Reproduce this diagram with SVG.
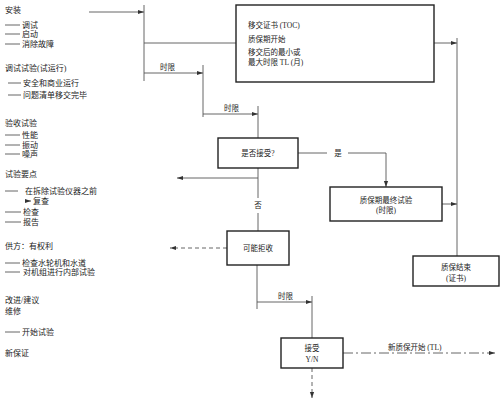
<svg xmlns="http://www.w3.org/2000/svg" width="500" height="401" viewBox="0 0 500 401">
<defs>
<style>
text{font-family:"Liberation Serif","Noto Sans CJK SC",serif;fill:#222;}
.l{font-size:8px;}
.b{font-size:7.5px;}
.m{text-anchor:middle;}
.box{fill:#fff;stroke:#222;stroke-width:1.4;}
.ln{fill:none;stroke:#555;stroke-width:0.9;}
.dash{fill:none;stroke:#555;stroke-width:0.9;stroke-dasharray:4 3;}
.dd{fill:none;stroke:#555;stroke-width:0.9;stroke-dasharray:10 3 2 3;}
.tick{stroke:#555;stroke-width:0.9;}
</style>
<marker id="ah" viewBox="0 0 10 10" refX="10" refY="5" markerWidth="6" markerHeight="6" markerUnits="userSpaceOnUse" orient="auto">
<path d="M0,1.5 L10,5 L0,8.5 z" fill="#333"/>
</marker>
</defs>
<rect width="500" height="401" fill="#fff"/>

<g id="legend">
<text class="l" x="5" y="13">安装</text>
<line class="tick" x1="5" y1="25" x2="20" y2="25"/><text class="l" x="22" y="28">调试</text>
<line class="tick" x1="5" y1="34" x2="20" y2="34"/><text class="l" x="22" y="37">启动</text>
<line class="tick" x1="5" y1="44" x2="20" y2="44"/><text class="l" x="22" y="47">消除故障</text>
<text class="l" x="5" y="71">调试试验(试运行)</text>
<line class="tick" x1="8" y1="83" x2="21" y2="83"/><text class="l" x="23" y="86">安全和商业运行</text>
<line class="tick" x1="8" y1="95" x2="21" y2="95"/><text class="l" x="23" y="98">问题清单移交完毕</text>
<text class="l" x="5" y="126">验收试验</text>
<line class="tick" x1="5" y1="135" x2="20" y2="135"/><text class="l" x="22" y="138">性能</text>
<line class="tick" x1="5" y1="145" x2="20" y2="145"/><text class="l" x="22" y="148">振动</text>
<line class="tick" x1="5" y1="154" x2="20" y2="154"/><text class="l" x="22" y="157">噪声</text>
<text class="l" x="5" y="177">试验要点</text>
<line class="tick" x1="5" y1="191" x2="18" y2="191"/><text class="l" x="25" y="194">在拆除试验仪器之前</text>
<line class="ln" x1="25" y1="201" x2="31" y2="201" marker-end="url(#ah)"/><text class="l" x="33" y="204">复查</text>
<line class="tick" x1="5" y1="212" x2="21" y2="212"/><text class="l" x="23" y="215">检查</text>
<line class="tick" x1="5" y1="222" x2="21" y2="222"/><text class="l" x="23" y="225">报告</text>
<text class="l" x="5" y="249">供方：有权利</text>
<line class="tick" x1="5" y1="263" x2="20" y2="263"/><text class="l" x="22" y="266">检查水轮机和水道</text>
<line class="tick" x1="5" y1="272" x2="20" y2="272"/><text class="l" x="23" y="275">对机组进行内部试验</text>
<text class="l" x="5" y="303">改进/建议</text>
<text class="l" x="5" y="314">维修</text>
<line class="tick" x1="5" y1="332" x2="20" y2="332"/><text class="l" x="22" y="335">开始试验</text>
<text class="l" x="5" y="356">新保证</text>
</g>

<g id="connectors">
<line class="ln" x1="89" y1="12" x2="144" y2="12" marker-end="url(#ah)"/>
<line class="ln" x1="144" y1="5" x2="144" y2="81"/>
<line class="ln" x1="144" y1="43" x2="236" y2="43"/>
<line class="ln" x1="144" y1="73" x2="203" y2="73" marker-end="url(#ah)"/>
<text class="b" x="160" y="70">时限</text>
<line class="ln" x1="203" y1="65" x2="203" y2="117"/>
<line class="ln" x1="203" y1="114" x2="258" y2="114" marker-end="url(#ah)"/>
<text class="b" x="224" y="111">时限</text>
<line class="ln" x1="258" y1="106" x2="258" y2="138"/>
<line class="ln" x1="258" y1="168" x2="258" y2="198"/>
<text class="b m" x="258" y="208">否</text>
<line class="ln" x1="258" y1="213" x2="258" y2="231"/>
<line class="ln" x1="258" y1="178" x2="177" y2="178" marker-end="url(#ah)"/>
<line class="dash" x1="227" y1="248" x2="170" y2="248" marker-end="url(#ah)"/>
<polyline class="ln" points="298,153 327,153"/>
<text class="b m" x="338" y="156">是</text>
<polyline class="ln" points="348,153 386,153 386,187" marker-end="url(#ah)"/>
<line class="ln" x1="434" y1="43" x2="457" y2="43" marker-end="url(#ah)"/>
<line class="ln" x1="457" y1="38" x2="457" y2="256"/>
<line class="ln" x1="442" y1="204" x2="457" y2="204" marker-end="url(#ah)"/>
<line class="ln" x1="257" y1="265" x2="257" y2="309"/>
<line class="ln" x1="257" y1="302" x2="312" y2="302" marker-end="url(#ah)"/>
<text class="b" x="278" y="299">时限</text>
<line class="ln" x1="312" y1="296" x2="312" y2="338"/>
<line class="dd" x1="343" y1="353" x2="495" y2="353" marker-end="url(#ah)"/>
<text class="b" x="388" y="350">新质保开始 (TL)</text>
<line class="dash" x1="312" y1="368" x2="312" y2="398" marker-end="url(#ah)"/>
</g>

<g id="toc">
<rect class="box" x="236" y="5" width="198" height="77"/>
<text class="b" x="248" y="28">移交证书 (TOC)</text>
<text class="b" x="248" y="42">质保期开始</text>
<text class="b" x="248" y="55">移交后的最小或</text>
<text class="b" x="248" y="65">最大时限 TL (月)</text>
</g>
<g id="accept-q">
<rect class="box" x="218" y="138" width="80" height="30"/>
<text class="b m" x="258" y="156">是否接受?</text>
</g>
<g id="final-test">
<rect class="box" x="330" y="187" width="112" height="34"/>
<text class="b m" x="386" y="203">质保期最终试验</text>
<text class="b m" x="386" y="213">(时限)</text>
</g>
<g id="reject">
<rect class="box" x="227" y="231" width="62" height="34"/>
<text class="b m" x="258" y="251">可能拒收</text>
</g>
<g id="end">
<rect class="box" x="413" y="256" width="86" height="30"/>
<text class="b m" x="456" y="270">质保结束</text>
<text class="b m" x="456" y="281">(证书)</text>
</g>
<g id="accept-yn">
<rect class="box" x="281" y="338" width="62" height="30"/>
<text class="b m" x="312" y="351">接受</text>
<text class="b m" x="312" y="362">Y/N</text>
</g>
</svg>
